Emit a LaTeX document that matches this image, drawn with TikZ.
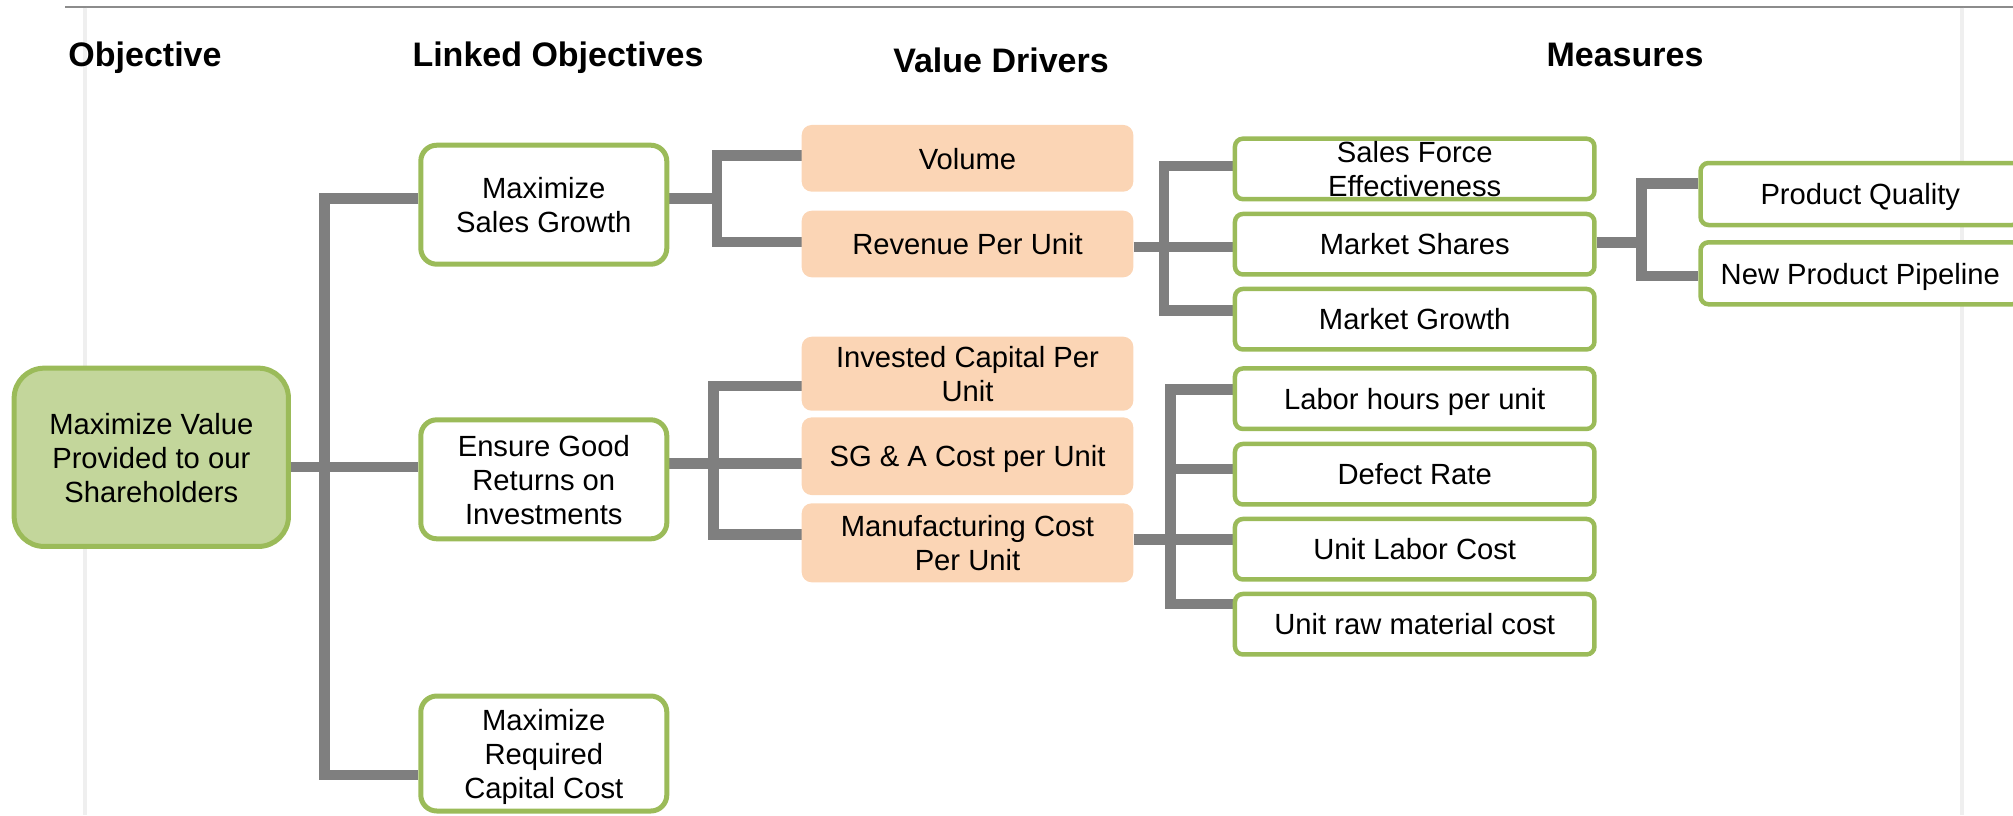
\documentclass[tikz,border=0pt]{standalone}
\usepackage{fontspec}
\setmainfont{Liberation Sans}
\definecolor{gborder}{HTML}{9BBB59}
\definecolor{gfill}{HTML}{C3D69B}
\definecolor{peach}{HTML}{FBD5B5}
\definecolor{conngray}{HTML}{7F7F7F}
\definecolor{rulegray}{HTML}{8C8C8C}
\definecolor{faint}{HTML}{EFEFEF}
\pgfdeclarelayer{bg}
\pgfsetlayers{bg,main}
\newcommand{\bodyfont}{\fontsize{29.2}{34}\selectfont}
\newcommand{\headfont}{\fontsize{34}{40}\selectfont\bfseries}
\newcommand{\Ln}[1]{\raisebox{0pt}[21.5pt][0pt]{#1}}
\tikzset{
  mvbox/.style={draw=gborder, fill=gfill, line width=5pt, rounded corners=30pt, inner sep=0pt, align=center, font=\bodyfont},
  lobox/.style={draw=gborder, fill=white, line width=5pt, rounded corners=16pt, inner sep=0pt, align=center, font=\bodyfont, minimum width=246, minimum height=119},
  vdbox/.style={fill=peach, rounded corners=10pt, inner sep=0pt, align=center, font=\bodyfont, minimum width=331.6},
  msbox/.style={draw=gborder, fill=white, line width=4.5pt, rounded corners=8pt, inner sep=0pt, align=center, font=\bodyfont, minimum width=359.5, minimum height=60.5},
  pqbox/.style={draw=gborder, fill=white, line width=4.5pt, rounded corners=8pt, inner sep=0pt, align=center, font=\bodyfont, minimum width=319.5, minimum height=62},
  conn/.style={draw=conngray, line width=10.5pt, line join=miter},
  head/.style={anchor=base, font=\headfont, inner sep=0pt}
}
\begin{document}
\begin{tikzpicture}[x=1pt,y=-1pt]
\useasboundingbox (0,0) rectangle (2013,815);
\clip (0,0) rectangle (2013,815);

% headers
\node[head] (h1) at (145,66.7) {Objective};
\node[head] (h2) at (558,66.7) {Linked Objectives};
\node[head] (h3) at (1001,72.7) {Value Drivers};
\node[head] (h4) at (1625,66.7) {Measures};

% objective
\node[mvbox, minimum width=274.3, minimum height=178.3] (MV) at (151.3,457.3) {\Ln{Maximize Value}\\\Ln{Provided to our}\\\Ln{Shareholders}};

% linked objectives
\node[lobox] (L1) at (543.8,204.7) {\Ln{Maximize}\\\Ln{Sales Growth}};
\node[lobox] (L2) at (543.8,479.3) {\Ln{Ensure Good}\\\Ln{Returns on}\\\Ln{Investments}};
\node[lobox, minimum height=115] (L3) at (543.8,753.5) {\Ln{Maximize}\\\Ln{Required}\\\Ln{Capital Cost}};

% value drivers
\node[vdbox, minimum height=66.7] (V1) at (967.5,158.3) {\Ln{Volume}};
\node[vdbox, minimum height=66.6] (V2) at (967.5,244) {\Ln{Revenue Per Unit}};
\node[vdbox, minimum height=74] (V3) at (967.5,373.7) {\Ln{Invested Capital Per}\\\Ln{Unit}};
\node[vdbox, minimum height=77.7] (V4) at (967.5,456.2) {\Ln{SG \& A Cost per Unit}};
\node[vdbox, minimum height=79] (V5) at (967.5,542.8) {\Ln{Manufacturing Cost}\\\Ln{Per Unit}};

% measures
\node[msbox] (M1) at (1414.7,168.9) {\Ln{Sales Force}\\\Ln{Effectiveness}};
\node[msbox] (M2) at (1414.7,244.2) {\Ln{Market Shares}};
\node[msbox] (M3) at (1414.7,319.2) {\Ln{Market Growth}};
\node[msbox] (M4) at (1414.7,398.7) {\Ln{Labor hours per unit}};
\node[msbox] (M5) at (1414.7,474.2) {\Ln{Defect Rate}};
\node[msbox] (M6) at (1414.7,549.2) {\Ln{Unit Labor Cost}};
\node[msbox] (M7) at (1414.7,624.2) {\Ln{Unit raw material cost}};

\node[pqbox] (P1) at (1860.3,194) {\Ln{Product Quality}};
\node[pqbox] (P2) at (1860.3,273.3) {\Ln{New Product Pipeline}};

\begin{pgfonlayer}{bg}
  % frame lines
  \draw[rulegray, line width=2pt] (65,6.5) -- (2013,6.5);
  \draw[faint, line width=4pt] (85,7.5) -- (85,815);
  \draw[faint, line width=4pt] (1962,7.5) -- (1962,815);

  % objective -> linked objectives
  \draw[conn] (MV.east |- 0,467) -- (L2.west |- 0,467);
  \draw[conn] (L1.west |- 0,198.3) -- (324.7,198.3) -- (324.7,775) -- (L3.west |- 0,775);

  % sales growth -> volume / revenue
  \draw[conn] (L1.east |- 0,198.3) -- (717.2,198.3);
  \draw[conn] (V1.west |- 0,155.5) -- (717.2,155.5) -- (717.2,242) -- (V2.west |- 0,242);

  % ensure good returns -> IC / SGA / MC
  \draw[conn] (L2.east |- 0,463.3) -- (V4.west |- 0,463.3);
  \draw[conn] (V3.west |- 0,386.2) -- (713.7,386.2) -- (713.7,534.5) -- (V5.west |- 0,534.5);

  % revenue per unit -> measures
  \draw[conn] (V2.east |- 0,247) -- (M2.west |- 0,247);
  \draw[conn] (M1.west |- 0,166) -- (1164,166) -- (1164,310.7) -- (M3.west |- 0,310.7);

  % market shares -> product quality / pipeline
  \draw[conn] (M2.east |- 0,242.3) -- (1641.7,242.3);
  \draw[conn] (P1.west |- 0,183.3) -- (1641.7,183.3) -- (1641.7,276) -- (P2.west |- 0,276);

  % manufacturing cost -> measures
  \draw[conn] (V5.east |- 0,539.7) -- (M6.west |- 0,539.7);
  \draw[conn] (M4.west |- 0,389.5) -- (1170.5,389.5) -- (1170.5,604) -- (M7.west |- 0,604);
  \draw[conn] (1170.5,468.8) -- (M5.west |- 0,468.8);
\end{pgfonlayer}
\end{tikzpicture}
\end{document}
